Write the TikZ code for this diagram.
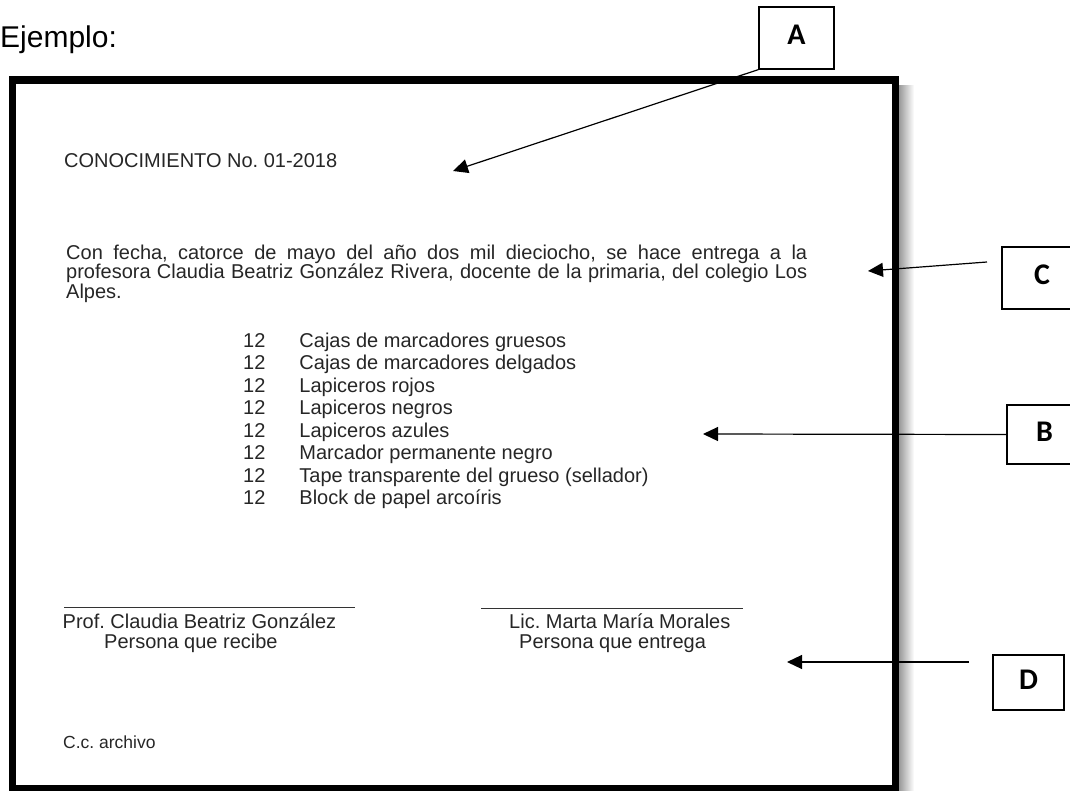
\documentclass[tikz,border=0pt]{standalone}
\usepackage{fontspec}
\setmainfont{Liberation Sans}
\newfontfamily\lettfont{Carlito}
\usetikzlibrary{arrows.meta}
\hyphenpenalty=10000
\frenchspacing

\begin{document}
\begin{tikzpicture}[x=1pt,y=-1pt,>={Triangle[length=15pt,width=14pt]},
  txt/.style={anchor=base west,inner sep=0pt,text=black!85,font=\fontsize{20}{22.5}\selectfont},
  lbl/.style={draw,line width=1.2pt,inner sep=0pt,text depth=6pt,font=\lettfont\bfseries\fontsize{30}{30}\selectfont}]
\useasboundingbox (0,0) rectangle (1070,791);
\node[anchor=base west,inner sep=0pt,font=\fontsize{30}{30}\selectfont] (ej) at (0,48) {Ejemplo:};
\shade[left color=black!40,right color=white] (899,86) rectangle (914,791);
\draw[line width=7.5pt] (12.5,80) rectangle (895.5,789);
\node[txt] (con) at (64,168) {CONOCIMIENTO No. 01-2018};
\node[txt,anchor=north west,text width=741pt,align=justify,font=\fontsize{20}{19.5}\selectfont] (par) at (66,244.5)
  {Con fecha, catorce de mayo del año dos mil dieciocho, se hace entrega a la\linebreak profesora Claudia Beatriz González Rivera, docente de la primaria, del colegio Los\linebreak Alpes.};
\node[txt,anchor=north west] (lst) at (243,331.25) {\begin{tabular}{@{}l@{\hspace{34pt}}l@{}}
12 & Cajas de marcadores gruesos\\
12 & Cajas de marcadores delgados\\
12 & Lapiceros rojos\\
12 & Lapiceros negros\\
12 & Lapiceros azules\\
12 & Marcador permanente negro\\
12 & Tape transparente del grueso (sellador)\\
12 & Block de papel arcoíris
\end{tabular}};
\draw[line width=1pt,black!80] (64,607)--(355,607);
\draw[line width=1pt,black!80] (481,608)--(743,608);
\node[txt] (rec) at (62.5,628) {Prof. Claudia Beatriz González};
\node[txt] (rec2) at (104,648) {Persona que recibe};
\node[txt] (ent) at (509,628) {Lic. Marta María Morales};
\node[txt] (ent2) at (519,648) {Persona que entrega};
\node[txt,font=\fontsize{17.5}{20}\selectfont] (cc) at (63,748) {C.c. archivo};
\node[lbl,minimum width=75pt,minimum height=62pt] (A) at (796.5,38) {A};
\node[lbl,minimum width=80pt,minimum height=62pt] (C) at (1042,278) {C};
\node[lbl,minimum width=75pt,minimum height=59pt] (B) at (1044.5,434.5) {B};
\node[lbl,minimum width=71pt,minimum height=55pt] (D) at (1028.5,682.5) {D};
\coordinate (a1) at (453,171);
\coordinate (c0) at (987,262);\coordinate (c1) at (868,271);
\coordinate (b1) at (703,434);
\coordinate (d0) at (969,662);\coordinate (d1) at (787,662);
\draw[->,line width=1.2pt] (A.south west)--(a1);
\draw[->,line width=1.2pt] (c0)--(c1);
\draw[->,line width=1.2pt] (B.west)--(b1);
\draw[->,line width=1.2pt] (d0)--(d1);
\end{tikzpicture}
\end{document}
